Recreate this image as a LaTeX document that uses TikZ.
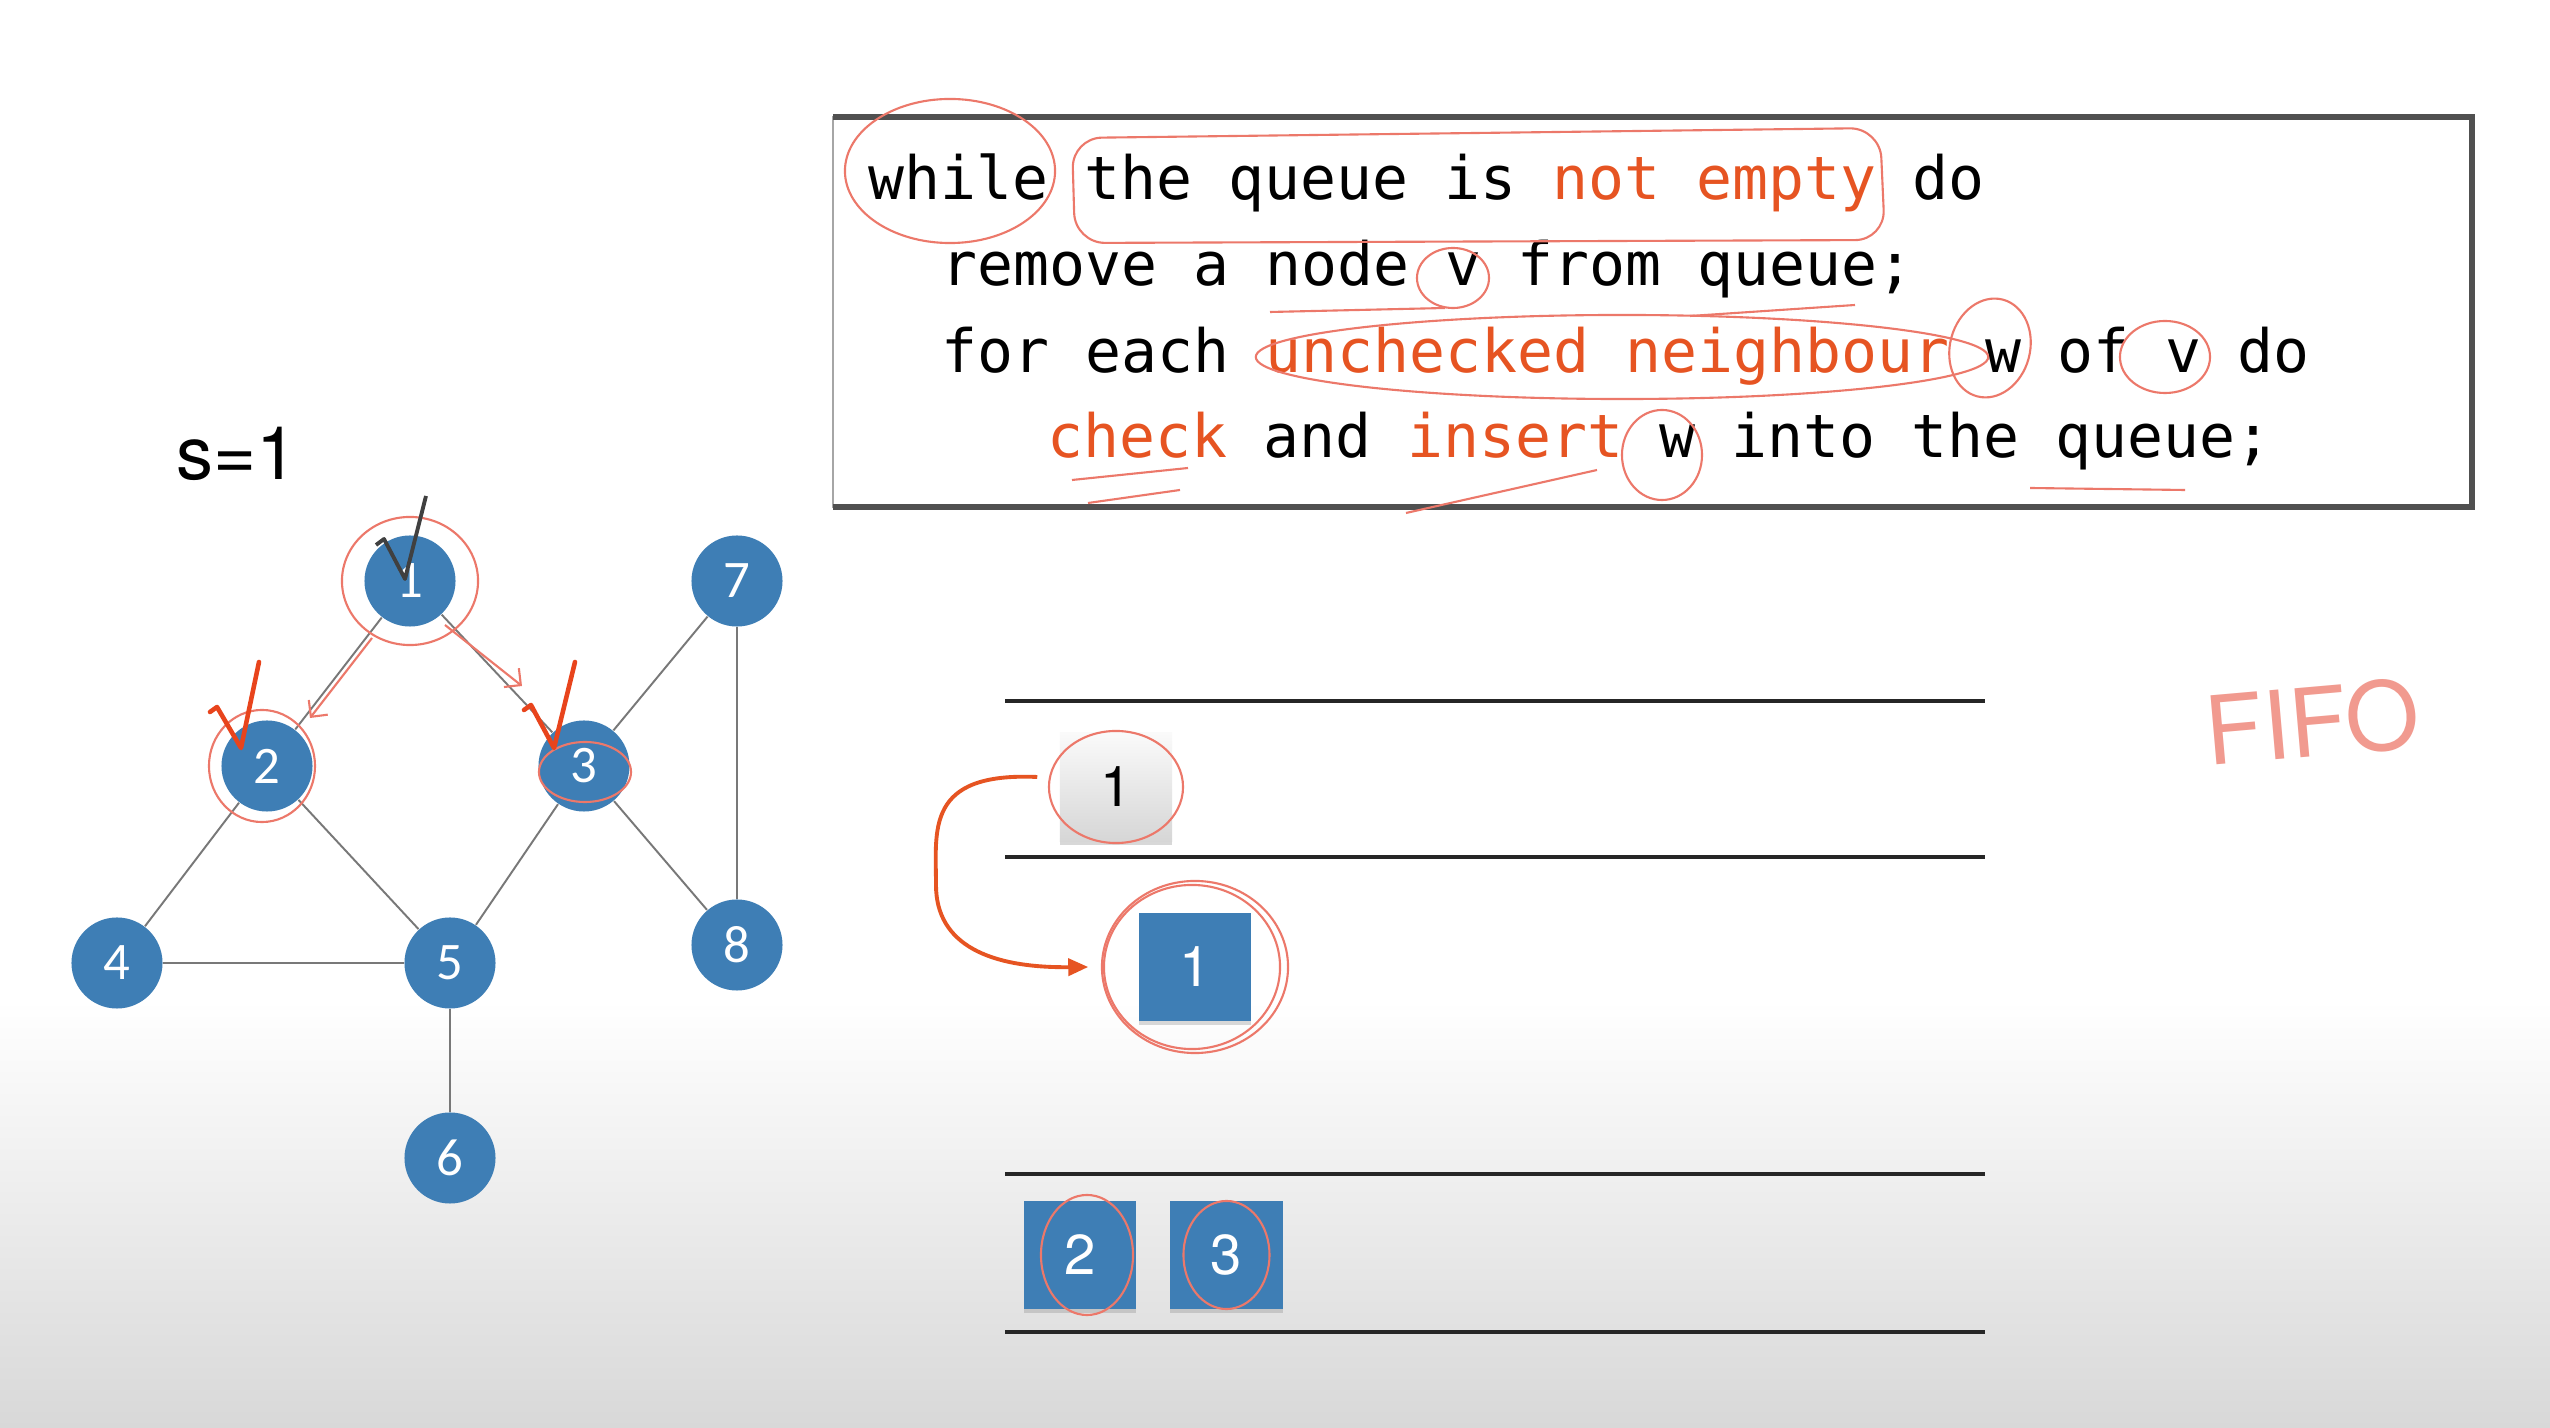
\documentclass[tikz,border=0pt]{standalone}
\usepackage{fontspec}
\setmainfont{TeX Gyre Heros}
\setmonofont{DejaVu Sans Mono}
\newfontfamily\vertexfont{Carlito}
\usetikzlibrary{arrows.meta,shadows,positioning}
\definecolor{nodeblue}{RGB}{62,126,181}
\definecolor{codeorange}{RGB}{230,84,34}
\definecolor{inkred}{RGB}{236,120,106}
\definecolor{checkred}{RGB}{232,68,28}
\definecolor{edgegray}{RGB}{120,120,120}
\definecolor{framegray}{RGB}{80,80,80}
\definecolor{bggray}{RGB}{216,216,216}
\newcommand{\hl}[1]{\textcolor{codeorange}{#1}}
\tikzset{
	vertex/.style={circle, fill=nodeblue, minimum size=0.91cm, inner sep=0pt, text=white, font=\vertexfont\fontsize{15}{15}\selectfont},
	link/.style={draw=edgegray, line width=0.55pt},
	qbox/.style={rectangle, fill=nodeblue, minimum width=1.12cm, minimum height=1.08cm, inner sep=0pt, text=white, font=\fontsize{16}{16}\selectfont, drop shadow={shadow xshift=0pt, shadow yshift=-0.04cm, opacity=0.3}},
	qgray/.style={qbox, top color=gray!4, bottom color=gray!32, text=black},
	codeline/.style={anchor=base west, inner sep=0pt, font=\ttfamily\fontsize{17}{17}\selectfont},
	qline/.style={draw=black!85, line width=1.1pt},
	ink/.style={draw=inkred, line width=0.6pt},
	tick/.style={draw=checkred, line width=1.3pt, line cap=round, line join=round}
}
\begin{document}
\begin{tikzpicture}[x=0.01cm, y=-0.01cm]
	\useasboundingbox (0,0) rectangle (2550,1428);
	\fill[white] (0,0) rectangle (2550,1428);
	\shade[top color=white, bottom color=bggray] (0,1000) rectangle (2550,1428);

	\draw[line width=0.5pt, gray!70] (833,117) rectangle (2472,507);
	\draw[line width=1.8pt, framegray] (833,117) -- (2472,117) -- (2472,507) -- (833,507);
	\node[codeline] (line1) at (868,200) {while the queue is \hl{not empty} do};
	\node[codeline] (line2) at (941,286) {remove a node v from queue;};
	\node[codeline] (line3) at (941,373) {for each \hl{unchecked neighbour} w of v do};
	\node[codeline] (line4) at (1047,458) {\hl{check} and \hl{insert} w into the queue;};

	\node[font=\fontsize{21}{21}\selectfont] (src) at (237,454) {s=1};
	\node[vertex] (n1) at (410,581) {1};
	\node[vertex] (n2) at (267,766) {2};
	\node[vertex] (n3) at (584,766) {3};
	\node[vertex] (n4) at (117,963) {4};
	\node[vertex] (n5) at (450,963) {5};
	\node[vertex] (n6) at (450,1158) {6};
	\node[vertex] (n7) at (737,581) {7};
	\node[vertex] (n8) at (737,945) {8};
	\foreach \a/\b in {n1/n2, n1/n3, n2/n4, n2/n5, n3/n5, n3/n7, n3/n8, n7/n8, n4/n5, n5/n6}
		\draw[link] (\a) -- (\b);

	\draw[qline] (1005,701) -- (1985,701);
	\draw[qline] (1005,857) -- (1985,857);
	\draw[qline] (1005,1174) -- (1985,1174);
	\draw[qline] (1005,1332) -- (1985,1332);
	\node[qgray] (qtop) at (1116,787) {1};
	\node[qbox] (qdeq) at (1195,967) {1};
	\node[qbox] (qa) at (1080,1255) {2};
	\node[qbox, right=0.33cm of qa] (qb) {3};
	\draw[draw=codeorange, line width=1.1pt, -{Triangle[length=0.2cm, width=0.17cm]}] ([shift={(-0.22cm,0.1cm)}]qtop.west) .. controls (925,772) and (936,830) .. (936,885) .. controls (936,945) and (990,968) .. ([xshift=-0.5cm]qdeq.west);

	\node[text=inkred!75, rotate=5, font=\fontsize{27}{27}\selectfont] (fifo) at (2312,722) {FIFO};

	\draw[ink] (950,171) ellipse [x radius=1.05cm, y radius=0.72cm];
	\draw[ink, rounded corners=0.3cm] (1072,138) -- (1880,128) -- (1885,240) -- (1075,243) -- cycle;
	\draw[ink] (1453,278) ellipse [x radius=0.36cm, y radius=0.3cm];
	\draw[ink] (1270,312) -- (1445,308);
	\draw[ink] (1690,316) -- (1855,305);
	\draw[ink] (1622,357) ellipse [x radius=3.66cm, y radius=0.42cm];
	\draw[ink, rotate around={-15:(1990,348)}] (1990,348) ellipse [x radius=0.4cm, y radius=0.5cm];
	\draw[ink] (2165,357) ellipse [x radius=0.45cm, y radius=0.36cm];
	\draw[ink] (1072,480) -- (1188,468);
	\draw[ink] (1088,503) -- (1180,490);
	\draw[ink] (1406,513) -- (1597,470);
	\draw[ink] (1662,455) ellipse [x radius=0.4cm, y radius=0.45cm];
	\draw[ink] (2030,488) -- (2185,490);

	\draw[ink] (n1) ellipse [x radius=0.68cm, y radius=0.64cm];
	\draw[ink] ([xshift=-0.05cm]n2) ellipse [x radius=0.53cm, y radius=0.56cm];
	\draw[ink] ([shift={(0.01cm,-0.06cm)}]n3) ellipse [x radius=0.46cm, y radius=0.3cm];
	\draw[ink, -{Straight Barb[length=0.12cm]}] (372,638) -- (310,718);
	\draw[ink, -{Straight Barb[length=0.12cm]}] (445,625) -- (522,686);
	\draw[draw=black!75, line width=1.1pt, line join=round] (376,545) -- (384,539) -- (405,579) -- (426,496);
	\draw[tick] (210,712) -- (217,707) -- (241,748) -- (259,662);
	\draw[tick] (524,710) -- (531,705) -- (554,748) -- (575,662);

	\draw[ink] (qtop) ellipse [x radius=0.67cm, y radius=0.56cm];
	\draw[ink] (qdeq) ellipse [x radius=0.93cm, y radius=0.86cm];
	\draw[ink] ([xshift=-0.03cm]qdeq) ellipse [x radius=0.88cm, y radius=0.82cm];
	\draw[ink] ([xshift=0.07cm]qa) ellipse [x radius=0.46cm, y radius=0.6cm];
	\draw[ink] (qb) ellipse [x radius=0.43cm, y radius=0.54cm];
\end{tikzpicture}
\end{document}
